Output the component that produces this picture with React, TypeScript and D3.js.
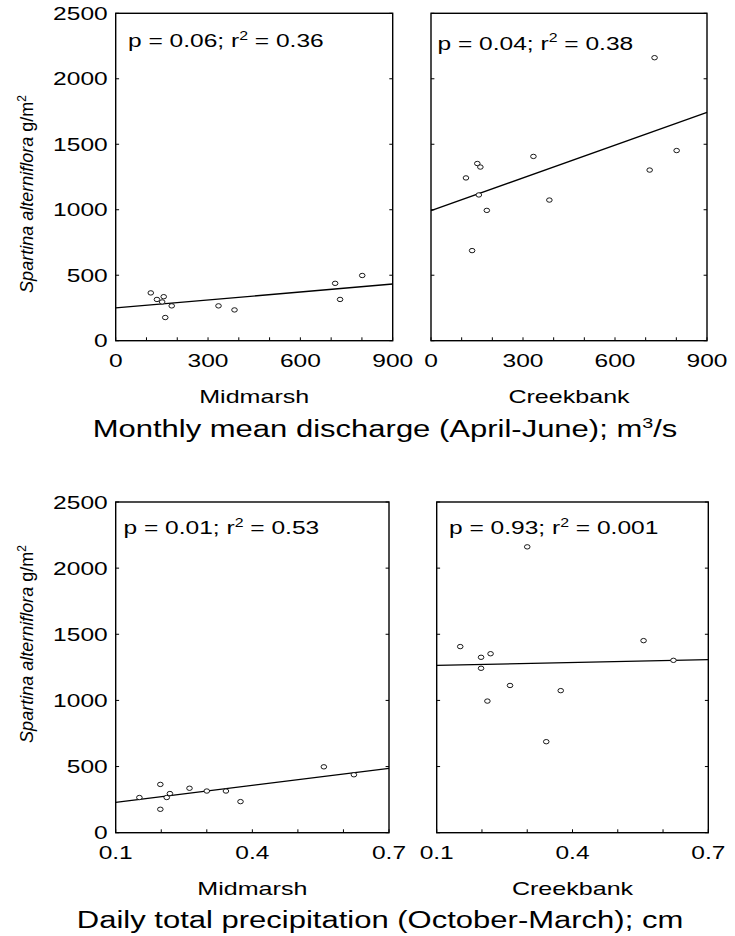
import React from 'react';
import * as d3 from 'd3';

// one entry per year, same order in every array
const discharge = [729, 801, 713, 334, 151, 161, 114, 156, 182, 386, 134];
const precipitation = [0.3, 0.557, 0.623, 0.152, 0.219, 0.198, 0.198, 0.262, 0.212, 0.374, 0.342];
const midmarsh = [315, 498, 438, 266, 296, 177, 365, 336, 266, 235, 315];
const creekbank = [2161, 1452, 1303, 1407, 1353, 1326, 1243, 1113, 995, 1074, 688];

// fitted line values at the two ends of the x domain
const dischargeMidFit = [250, 433];
const dischargeCreekFit = [993, 1744];
const precipMidFit = [229, 486];
const precipCreekFit = [1265, 1308];

const stats = [
  ['0.06', '0.36'],
  ['0.04', '0.38'],
  ['0.01', '0.53'],
  ['0.93', '0.001'],
];

const yTicks = [0, 500, 1000, 1500, 2000, 2500];
const dischargeLabels = [0, 300, 600, 900];
const precipLabels = [0.1, 0.4, 0.7];
const sites = ['Midmarsh', 'Creekbank'];
const titles = [
  ['Monthly mean discharge (April-June); m', '3', '/s'],
  ['Daily total precipitation (October-March); cm', '', ''],
];

const FONT = "'Liberation Sans', Arial, Helvetica, sans-serif";
const SX = 1.32;

const SText = ({ x, y, size, anchor = 'start', children }: any) => (
  <text
    transform={`translate(${x},${y}) scale(${SX},1)`}
    fontSize={size}
    fontFamily={FONT}
    textAnchor={anchor}
    fill="#000"
  >
    {children}
  </text>
);

const Panel = (props: any) => {
  const { box, xDomain, xs, ys, fit, labels, fmt, showY, stat, statPos, site } = props;
  const [x0, x1, y0, y1] = box;
  const x = d3.scaleLinear().domain(xDomain).range([x0, x1]);
  const y = d3.scaleLinear().domain([0, 2500]).range([y1, y0]);
  const minor = x.ticks(xDomain[1] > 10 ? 9 : 6);
  const tl = 3.4;

  return (
    <g>
      {yTicks.map((t) => (
        <g key={`y${t}`}>
          <line x1={x0} x2={x0 + tl} y1={y(t)} y2={y(t)} stroke="#000" strokeWidth={1} />
          <line x1={x1} x2={x1 - tl} y1={y(t)} y2={y(t)} stroke="#000" strokeWidth={1} />
          {showY && (
            <SText x={x0 - 8} y={y(t) + 6.7} size={18.6} anchor="end">{t}</SText>
          )}
        </g>
      ))}
      {minor.map((t) => (
        <line key={`x${t}`} x1={x(t)} x2={x(t)} y1={y1} y2={y1 - tl} stroke="#000" strokeWidth={1} />
      ))}
      {labels.map((t: number) => (
        <SText key={`l${t}`} x={x(t)} y={y1 + 26} size={18.6} anchor="middle">{fmt(t)}</SText>
      ))}
      <rect x={x0} y={y0} width={x1 - x0} height={y1 - y0} fill="none" stroke="#000" strokeWidth={1.4} />
      <line
        x1={x(xDomain[0])}
        y1={y(fit[0])}
        x2={x(xDomain[1])}
        y2={y(fit[1])}
        stroke="#000"
        strokeWidth={1.3}
      />
      {xs.map((v: number, i: number) => (
        <ellipse key={i} cx={x(v)} cy={y(ys[i])} rx={2.8} ry={2.2} fill="#fff" stroke="#000" strokeWidth={0.9} />
      ))}
      <SText x={statPos[0]} y={statPos[1]} size={18.6}>
        <tspan>{`p = ${stat[0]}; r`}</tspan>
        <tspan fontSize={12} dy={-7.5}>2</tspan>
        <tspan dy={7.5}>{` = ${stat[1]}`}</tspan>
      </SText>
      <SText x={(x0 + x1) / 2} y={y1 + 62.6} size={19} anchor="middle">{site}</SText>
    </g>
  );
};

const YLabel = ({ x, y }: any) => (
  <text transform={`translate(${x},${y}) rotate(-90)`} fontSize={18} fontFamily={FONT} textAnchor="middle">
    <tspan fontStyle="italic">Spartina alterniflora</tspan>
    <tspan> g/m</tspan>
    <tspan fontSize={12} dy={-7}>2</tspan>
  </text>
);

export default function App() {
  const fmtD = d3.format('d');
  const fmtP = d3.format('.1f');
  return (
    <svg width={735} height={936} style={{ position: 'absolute', left: 0, top: 0, background: '#fff' }}>
      <Panel
        box={[115.7, 392.7, 13.3, 340.7]}
        xDomain={[0, 900]}
        xs={discharge}
        ys={midmarsh}
        fit={dischargeMidFit}
        labels={dischargeLabels}
        fmt={fmtD}
        showY
        stat={stats[0]}
        statPos={[128, 47]}
        site={sites[0]}
      />
      <Panel
        box={[431, 707, 13.3, 340.7]}
        xDomain={[0, 900]}
        xs={discharge}
        ys={creekbank}
        fit={dischargeCreekFit}
        labels={dischargeLabels}
        fmt={fmtD}
        showY={false}
        stat={stats[1]}
        statPos={[437.5, 49.5]}
        site={sites[1]}
      />
      <Panel
        box={[115.7, 389, 502, 832.7]}
        xDomain={[0.1, 0.7]}
        xs={precipitation}
        ys={midmarsh}
        fit={precipMidFit}
        labels={precipLabels}
        fmt={fmtP}
        showY
        stat={stats[2]}
        statPos={[123.5, 534]}
        site={sites[0]}
      />
      <Panel
        box={[436.7, 708.3, 502, 832.7]}
        xDomain={[0.1, 0.7]}
        xs={precipitation}
        ys={creekbank}
        fit={precipCreekFit}
        labels={precipLabels}
        fmt={fmtP}
        showY={false}
        stat={stats[3]}
        statPos={[449, 534]}
        site={sites[1]}
      />
      <YLabel x={33} y={194} />
      <YLabel x={33} y={644} />
      <SText x={385} y={437} size={23.5} anchor="middle">
        <tspan>{titles[0][0]}</tspan>
        <tspan fontSize={15} dy={-9}>{titles[0][1]}</tspan>
        <tspan dy={9}>{titles[0][2]}</tspan>
      </SText>
      <SText x={380} y={928} size={23.5} anchor="middle">{titles[1][0]}</SText>
    </svg>
  );
}
